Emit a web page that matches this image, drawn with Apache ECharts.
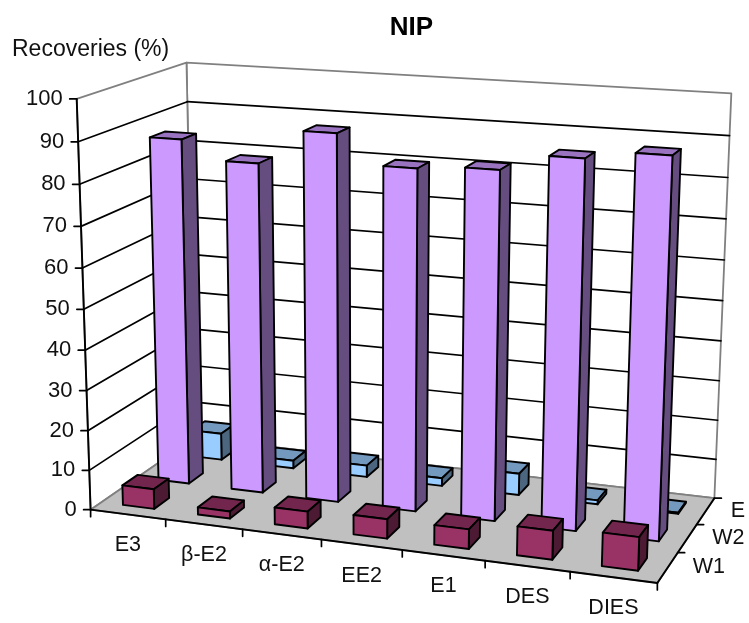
<!DOCTYPE html>
<html>
<head>
<meta charset="utf-8">
<style>html,body{margin:0;padding:0;background:#fff}#chart{width:749px;height:623px}</style>
<script src="https://cdn.jsdelivr.net/npm/echarts@6/dist/echarts.min.js"></script>
</head>
<body>
<div id="chart"></div>
<script>
// Recoveries per compound and extraction step.
const categories = ['E3', 'β-E2', 'α-E2', 'EE2', 'E1', 'DES', 'DIES'];
const depthLabels = ['W1', 'W2', 'E'];
const valueTicks = [0, 10, 20, 30, 40, 50, 60, 70, 80, 90, 100];
const seriesW1 = [5, 1.8, 4.2, 4.8, 4.8, 7, 8];
const seriesW2 = [87, 82.5, 91, 84, 85, 89, 91];
const seriesE = [7, 2, 3, 2, 5.5, 1, 0.3];

// Bar fill, top and side shades for each row.
const shadesW1 = ['#993366', '#73264D', '#4D1A33'];
const shadesW2 = ['#CC99FF', '#9973BF', '#664D80'];
const shadesE = ['#99CCFF', '#7399BF', '#4D6680'];

// Camera calibration: box coordinates (across, up, deep) against page pixels.
const calibration = [
  [0, 0, 0, 91, 509], [1, 0, 0, 657, 583], [1, 0, 1, 715, 498], [0, 0, 1, 193, 439],
  [0, 1, 0, 76, 99], [0, 1, 1, 188, 63], [1, 1, 1, 732, 93],
  [0, .5, 0, 84, 309], [0, .2, 0, 88, 431], [0, .8, 0, 78, 185],
  [1, .5, 1, 722, 301], [1, .2, 1, 718, 420], [1, .8, 1, 727, 177],
  [0, .5, 1, 190, 253], [0, .8, 1, 189, 141],
  [1 / 7, 0, 0, 166, 519], [2 / 7, 0, 0, 243, 529], [3 / 7, 0, 0, 322, 539],
  [4 / 7, 0, 0, 403, 550], [5 / 7, 0, 0, 485, 561], [6 / 7, 0, 0, 571, 572],
  [1, 0, 1 / 3, 677, 553], [1, 0, 2 / 3, 696, 525]
];

// Least-squares fit of the 3x4 projection matrix (last element fixed at 1).
function fitProjection(points) {
  const n = 11;
  const A = Array.from({ length: n }, () => new Array(n + 1).fill(0));
  const add = (row, rhs) => {
    for (let i = 0; i < n; i++) {
      for (let j = 0; j < n; j++) A[i][j] += row[i] * row[j];
      A[i][n] += row[i] * rhs;
    }
  };
  points.forEach(([X, Y, Z, u, v]) => {
    add([X, Y, Z, 1, 0, 0, 0, 0, -u * X, -u * Y, -u * Z], u);
    add([0, 0, 0, 0, X, Y, Z, 1, -v * X, -v * Y, -v * Z], v);
  });
  for (let c = 0; c < n; c++) {
    let p = c;
    for (let r = c + 1; r < n; r++) if (Math.abs(A[r][c]) > Math.abs(A[p][c])) p = r;
    [A[c], A[p]] = [A[p], A[c]];
    for (let r = 0; r < n; r++) {
      if (r === c) continue;
      const f = A[r][c] / A[c][c];
      for (let k = c; k <= n; k++) A[r][k] -= f * A[c][k];
    }
  }
  return A.map((row, i) => row[n] / row[i]);
}
const M = fitProjection(calibration);
function project(X, Y, Z) {
  const w = M[8] * X + M[9] * Y + M[10] * Z + 1;
  return [(M[0] * X + M[1] * Y + M[2] * Z + M[3]) / w, (M[4] * X + M[5] * Y + M[6] * Z + M[7]) / w];
}

const BAR_SHARE = 0.42;
const SANS = '"Liberation Sans", Arial, sans-serif';
const poly = (points, fill, stroke, lineWidth) => ({
  type: 'polygon', shape: { points }, style: { fill, stroke, lineWidth, lineJoin: 'round' }
});
const line = (a, b, stroke, lineWidth) => ({
  type: 'line', shape: { x1: a[0], y1: a[1], x2: b[0], y2: b[1] }, style: { stroke, lineWidth, lineCap: 'round' }
});
const text = (str, x, y, align, size) => ({
  type: 'text', style: { text: str, x, y, align, verticalAlign: 'middle', font: size + 'px ' + SANS, fill: '#111' }
});

// Walls, floor, gridlines, axes and their labels.
function renderFrame(params, api) {
  const cs = params.coordSys;
  const upOf = v => (cs.y + cs.height - api.coord([0, v])[1]) / cs.height;
  const acrossOf = i => (api.coord([i, 0])[0] - cs.x) / cs.width;
  const cell = api.size([1, 0])[0] / cs.width;
  const grey = '#808080';
  const kids = [];
  kids.push(poly([project(0, 0, 1), project(1, 0, 1), project(1, 1, 1), project(0, 1, 1)], '#fff', grey, 1.8));
  kids.push(poly([project(0, 0, 0), project(0, 0, 1), project(0, 1, 1), project(0, 1, 0)], '#fff', grey, 1.8));
  kids.push(poly([project(0, 0, 0), project(1, 0, 0), project(1, 0, 1), project(0, 0, 1)], '#C0C0C0', grey, 1.8));
  valueTicks.forEach(v => {
    const Y = upOf(v);
    if (v > 0 && v < 100) {
      kids.push(line(project(0, Y, 0), project(0, Y, 1), '#000', 1.7));
      kids.push(line(project(0, Y, 1), project(1, Y, 1), '#000', 1.7));
    }
    const p = project(0, Y, 0);
    kids.push(line(p, [p[0] - 7, p[1]], '#000', 1.7));
    kids.push(text(String(v), p[0] - 14, p[1], 'right', 22));
  });
  kids.push(line(project(0, 0, 0), project(0, 1, 0), '#000', 1.9));
  kids.push(line(project(0, 0, 0), project(1, 0, 0), '#000', 1.9));
  kids.push(line(project(1, 0, 0), project(1, 0, 1), '#000', 1.9));
  categories.forEach((c, i) => {
    const X = acrossOf(i);
    const tickAt = project(X + cell / 2, 0, 0);
    kids.push(line(tickAt, [tickAt[0], tickAt[1] + 7], '#000', 1.7));
    const mid = project(X, 0, 0);
    kids.push(text(c, mid[0], mid[1] + 31, 'center', 21.5));
  });
  const start = project(0, 0, 0);
  kids.push(line(start, [start[0], start[1] + 7], '#000', 1.7));
  depthLabels.forEach((d, i) => {
    const edge = project(1, 0, (i + 1) / depthLabels.length);
    kids.push(line(edge, [edge[0] + 7, edge[1]], '#000', 1.7));
    const mid = project(1, 0, (i + 0.5) / depthLabels.length);
    kids.push(text(d, mid[0] + 25, mid[1], 'left', 21.5));
  });
  return { type: 'group', children: kids };
}

// One bar: front, top and right faces, projected from its category and value.
function barRenderer(row, shades) {
  return function (params, api) {
    const cs = params.coordSys;
    const base = api.coord([api.value(0), 0]);
    const head = api.coord([api.value(0), api.value(1)]);
    const half = BAR_SHARE * api.size([1, 0])[0] / 2 / cs.width;
    const mid = (base[0] - cs.x) / cs.width;
    const up = (cs.y + cs.height - head[1]) / cs.height;
    const x0 = mid - half, x1 = mid + half;
    const z0 = (row + 0.5 - BAR_SHARE / 2) / depthLabels.length;
    const z1 = (row + 0.5 + BAR_SHARE / 2) / depthLabels.length;
    const edge = '#000';
    return {
      type: 'group',
      children: [
        poly([project(x0, up, z0), project(x1, up, z0), project(x1, up, z1), project(x0, up, z1)], shades[1], edge, 1.9),
        poly([project(x1, 0, z0), project(x1, 0, z1), project(x1, up, z1), project(x1, up, z0)], shades[2], edge, 1.9),
        poly([project(x0, 0, z0), project(x1, 0, z0), project(x1, up, z0), project(x0, up, z0)], shades[0], edge, 1.9)
      ]
    };
  };
}

function barSeries(name, row, values, shades) {
  return {
    type: 'custom', name, clip: false, silent: true,
    renderItem: barRenderer(row, shades),
    encode: { x: 0, y: 1 },
    data: values.map((v, i) => [i, v])
  };
}

const chart = echarts.init(document.getElementById('chart'), null, { renderer: 'canvas' });
chart.setOption({
  animation: false,
  backgroundColor: '#fff',
  title: [
    { text: 'NIP', left: 411.5, top: 28, padding: 0, textAlign: 'center', textVerticalAlign: 'middle',
      textStyle: { fontFamily: SANS, fontWeight: 'bold', fontSize: 26, color: '#000' } },
    { text: 'Recoveries (%)', left: 12, top: 50, padding: 0, textVerticalAlign: 'middle',
      textStyle: { fontFamily: SANS, fontWeight: 'normal', fontSize: 23, color: '#111' } }
  ],
  grid: { left: 100, right: 100, top: 100, bottom: 100 },
  xAxis: { type: 'category', data: categories, show: false },
  yAxis: { type: 'value', min: 0, max: 100, interval: 10, show: false },
  series: [
    { type: 'custom', name: 'frame', clip: false, silent: true, renderItem: renderFrame, encode: { x: 0, y: 1 }, data: [[0, 0]] },
    barSeries('E', 2, seriesE, shadesE),
    barSeries('W2', 1, seriesW2, shadesW2),
    barSeries('W1', 0, seriesW1, shadesW1)
  ]
});
</script>
</body>
</html>
